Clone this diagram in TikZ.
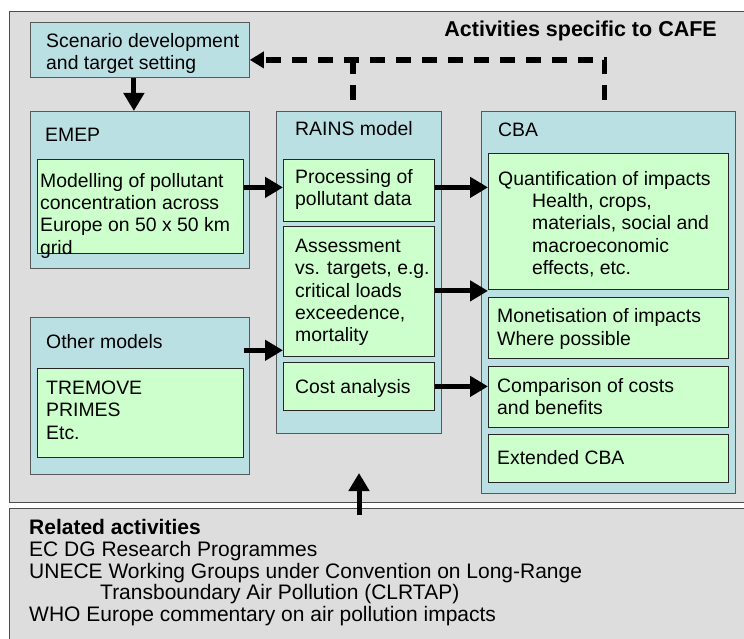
\documentclass[tikz,border=0pt]{standalone}
\usepackage{fontspec}
\setmainfont{Liberation Sans}
\usetikzlibrary{arrows.meta,positioning}

\definecolor{panelgray}{HTML}{DDDDDD}
\definecolor{modelblue}{HTML}{BAE0E3}
\definecolor{taskgreen}{HTML}{CCFFCC}

\tikzset{
  panel/.style={rectangle, draw=black!70, line width=1.3pt, fill=panelgray, anchor=north west, inner sep=0pt},
  model/.style={rectangle, draw=black!65, line width=0.8pt, fill=modelblue, anchor=north west, inner sep=0pt},
  task/.style={rectangle, draw=black!85, line width=0.8pt, fill=taskgreen, anchor=north west, inner sep=0pt},
  boxtext/.style={anchor=north west, align=left, inner sep=0pt, yshift=-2.5pt, execute at begin node=\strut},
  heading/.style={anchor=base west, inner sep=0pt},
  flow/.style={-{Triangle[length=18pt,width=20pt]}, line width=5pt},
  feedback/.style={line width=5.5pt, dash pattern=on 15pt off 11pt}
}

\begin{document}
\begin{tikzpicture}[x=1pt, y=-1pt, font=\fontsize{19.4}{22.3}\selectfont]
\useasboundingbox (0,0) rectangle (744,639);
\clip (0,0) rectangle (744,639);

% panels
\node[panel, minimum width=741pt, minimum height=491pt] (cafe) at (9,11) {};
\node[panel, minimum width=741pt, minimum height=140pt] (related) at (9,508) {};
\node[anchor=base east, inner sep=0pt, font=\fontsize{21.5}{24}\selectfont\bfseries] (cafetitle) at (717,37) {Activities specific to CAFE};

% scenario
\node[model, minimum width=219pt, minimum height=55pt] (scen) at (30,22) {};
\node[boxtext] (scentext) at ([xshift=16pt,yshift=-8.4pt]scen.north west) {Scenario development\\and target setting};

% EMEP
\node[model, minimum width=219pt, minimum height=157pt] (emep) at (30,111) {};
\node[heading] (emeptitle) at ([xshift=15pt,yshift=-31pt]emep.north west) {EMEP};
\node[task, minimum width=206pt, minimum height=94pt] (emepgrid) at (37,159) {};
\node[boxtext] (emepgridtext) at ([xshift=3pt,yshift=-11.4pt]emepgrid.north west) {Modelling of pollutant\\concentration across\\Europe on 50 x 50 km\\grid};

% other models
\node[model, minimum width=219pt, minimum height=157pt] (other) at (30,317) {};
\node[heading] (othertitle) at ([xshift=16pt,yshift=-31pt]other.north west) {Other models};
\node[task, minimum width=206pt, minimum height=89pt] (otherlist) at (37,368) {};
\node[boxtext] (otherlisttext) at ([xshift=9pt,yshift=-10.4pt]otherlist.north west) {TREMOVE\\PRIMES\\Etc.};

% RAINS
\node[model, minimum width=165pt, minimum height=322pt] (rains) at (276,111) {};
\node[heading] (rainstitle) at ([xshift=19pt,yshift=-25pt]rains.north west) {RAINS model};
\node[task, minimum width=151pt, minimum height=62pt] (proc) at (283,159) {};
\node[boxtext] (proctext) at ([xshift=12pt,yshift=-7.4pt]proc.north west) {Processing of\\pollutant data};
\node[task, minimum width=151pt, minimum height=130pt] (assess) at (283,225.5) {};
\node[boxtext] (assesstext) at ([xshift=12pt,yshift=-10.9pt]assess.north west) {Assessment\\vs. targets, e.g.\\critical loads\\exceedence,\\mortality};
\node[task, minimum width=151pt, minimum height=48pt] (cost) at (283,362) {};
\node[boxtext] (costtext) at ([xshift=12pt,yshift=-13.4pt]cost.north west) {Cost analysis};

% CBA
\node[model, minimum width=254pt, minimum height=382pt] (cba) at (481,111) {};
\node[heading] (cbatitle) at ([xshift=17pt,yshift=-26pt]cba.north west) {CBA};
\node[task, minimum width=240pt, minimum height=136pt] (quant) at (488,153) {};
\node[boxtext] (quanttext) at ([xshift=10pt,yshift=-15.4pt]quant.north west) {Quantification of impacts\\\hspace*{34pt}Health, crops,\\\hspace*{34pt}materials, social and\\\hspace*{34pt}macroeconomic\\\hspace*{34pt}effects, etc.};
\node[task, minimum width=240pt, minimum height=61.5pt] (monet) at (488,296.5) {};
\node[boxtext] (monettext) at ([xshift=9pt,yshift=-9.6pt]monet.north west) {Monetisation of impacts\\Where possible};
\node[task, minimum width=240pt, minimum height=61pt] (comp) at (488,365.5) {};
\node[boxtext] (comptext) at ([xshift=9pt,yshift=-9.9pt]comp.north west) {Comparison of costs\\and benefits};
\node[task, minimum width=240pt, minimum height=48pt] (ext) at (488,434) {};
\node[boxtext] (exttext) at ([xshift=9pt,yshift=-12.1pt]ext.north west) {Extended CBA};

% related activities
\node[boxtext, font=\fontsize{21}{21.6}\selectfont] (relatedtext) at ([xshift=20pt,yshift=-8.9pt]related.north west) {\textbf{Related activities}\\EC DG Research Programmes\\UNECE Working Groups under Convention on Long-Range\\\hspace*{71pt}Transboundary Air Pollution (CLRTAP)\\WHO Europe commentary on air pollution impacts};

% connectors
\coordinate (procin) at ([yshift=3pt]proc.west);
\coordinate (assessin) at ([yshift=6pt]assess.south west);
\coordinate (scenin) at ([yshift=-10pt]scen.east);
\coordinate (cbaup) at ([xshift=-4pt,yshift=11pt]cba.north);
\coordinate (rainsup) at ([xshift=-6pt,yshift=11pt]rains.north);
\coordinate (relout) at (359,515);
\coordinate (relin) at (359,473);

\draw[flow] ([xshift=-6pt]scen.south) -- ([xshift=-6pt]emep.north);
\draw[flow] (emepgrid.east |- procin) -- (procin);
\draw[flow] (procin -| proc.east) -- (procin -| quant.west);
\draw[flow] (assess.east) -- (assess.east -| quant.west);
\draw[flow] (otherlist.east |- assessin) -- (assessin);
\draw[flow] (cost.east) -- (cost.east -| comp.west);
\draw[flow] (relout) -- (relin);

\draw[feedback, -{Triangle[length=14pt,width=16pt]}] (cbaup) |- (scenin);
\draw[feedback] (rainsup) -- (rainsup |- scenin);
\end{tikzpicture}
\end{document}
